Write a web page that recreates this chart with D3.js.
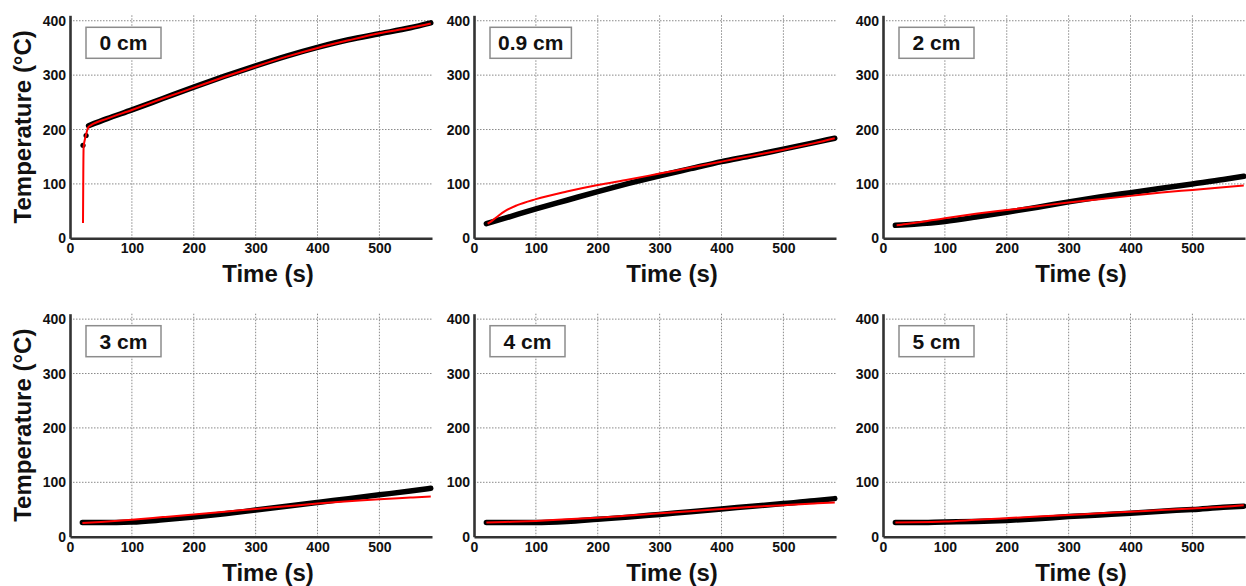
<!DOCTYPE html>
<html>
<head>
<meta charset="utf-8">
<script src="https://cdn.jsdelivr.net/npm/d3@7"></script>
<style>
  body { margin: 0; background: #fff; }
  svg text { font-family: "Liberation Sans", Arial, sans-serif; font-weight: bold; fill: #111; }
</style>
</head>
<body>
<div id="chart"></div>
<script>
const depthLabels = ["0 cm", "0.9 cm", "2 cm", "3 cm", "4 cm", "5 cm"];
const xTicks = [0, 100, 200, 300, 400, 500];
const yTicks = [0, 100, 200, 300, 400];

/* measured (black) and model (red) curves, [time s, temperature C] */
const meas0cmDots = [[21, 171], [26, 189]];
const meas0cm = [[30, 207], [60, 220], [100, 236], [150, 257], [200, 278], [250, 298], [300, 317], [350, 335], [400, 351], [450, 365], [500, 376], [550, 387], [583, 396]];
const model0cm = [[21, 28], [21.5, 120], [22, 168], [25, 186], [30, 205], [34, 208], [60, 220], [100, 236], [150, 257], [200, 277], [250, 297], [300, 316], [350, 334], [400, 350], [450, 364], [500, 377], [550, 387], [583, 395]];

const meas09cm = [[20, 27], [50, 37], [100, 54], [150, 70], [200, 86], [250, 101], [300, 115], [350, 128], [400, 141], [450, 152], [500, 164], [550, 176], [583, 184]];
const model09cm = [[22, 27], [30, 33], [40, 42], [50, 50], [70, 61], [100, 72], [150, 86], [200, 98], [250, 108], [300, 119], [350, 130], [400, 141], [450, 152], [500, 163], [550, 175], [583, 184]];

const meas2cm = [[20, 24], [50, 26], [100, 31], [150, 39], [200, 48], [250, 57], [300, 67], [350, 76], [400, 84], [450, 92], [500, 100], [550, 108], [583, 114]];
const model2cm = [[22, 24], [30, 25], [50, 28], [100, 37], [150, 45], [200, 52], [250, 59], [300, 66], [350, 72], [400, 78], [450, 84], [500, 89], [550, 94], [583, 97]];

const meas3cm = [[20, 26], [50, 26], [100, 27], [150, 31], [200, 36], [250, 42], [300, 49], [350, 56], [400, 63], [450, 70], [500, 77], [550, 84], [583, 89]];
const model3cm = [[20, 25], [50, 27], [100, 31], [150, 36], [200, 41], [250, 46], [300, 51], [350, 56], [400, 61], [450, 65], [500, 69], [550, 72], [583, 74]];

const meas4cm = [[20, 26], [50, 26], [100, 26], [150, 28], [200, 32], [250, 36], [300, 41], [350, 46], [400, 51], [450, 56], [500, 61], [550, 66], [583, 70]];
const model4cm = [[20, 26], [50, 27], [100, 29], [150, 32], [200, 35], [250, 39], [300, 43], [350, 47], [400, 51], [450, 55], [500, 58], [550, 61], [583, 63]];

const meas5cm = [[20, 26], [50, 26], [100, 27], [150, 28], [200, 30], [250, 33], [300, 37], [350, 40], [400, 43], [450, 47], [500, 50], [550, 54], [583, 56]];
const model5cm = [[20, 26], [50, 26.5], [100, 28], [150, 31], [200, 34], [250, 37], [300, 40], [350, 43], [400, 46], [450, 49], [500, 52], [550, 55], [583, 58]];

const measured = [meas0cm, meas09cm, meas2cm, meas3cm, meas4cm, meas5cm];
const modelled = [model0cm, model09cm, model2cm, model3cm, model4cm, model5cm];
const measuredDots = [meas0cmDots, [], [], [], [], []];

const width = 1246, height = 586;
const colLeft = [70, 474, 883];
const rowTop = [15.3, 313.7];
const plotW = 362, plotH = 223;

const x = d3.scaleLinear().domain([0, 585]).range([0, plotW]);
const y = d3.scaleLinear().domain([0, 410]).range([plotH, 0]);

const line = d3.line()
  .x(d => x(d[0]))
  .y(d => y(d[1]))
  .curve(d3.curveMonotoneX);

const svg = d3.select("#chart").append("svg")
  .attr("width", width)
  .attr("height", height);

depthLabels.forEach((label, i) => {
  const col = i % 3, row = Math.floor(i / 3);
  const g = svg.append("g")
    .attr("transform", "translate(" + colLeft[col] + " " + rowTop[row] + ")");

  /* dotted grid */
  g.selectAll(".vgrid").data(xTicks.filter(t => t > 0)).enter().append("line")
    .attr("x1", d => x(d)).attr("x2", d => x(d))
    .attr("y1", 0).attr("y2", plotH)
    .attr("stroke", "#8a8a8a").attr("stroke-width", 1).attr("stroke-dasharray", "1.5,1.5");
  g.selectAll(".hgrid").data(yTicks.filter(t => t > 0)).enter().append("line")
    .attr("x1", 0).attr("x2", plotW)
    .attr("y1", d => y(d)).attr("y2", d => y(d))
    .attr("stroke", "#8a8a8a").attr("stroke-width", 1).attr("stroke-dasharray", "1.5,1.5");

  /* axes */
  const xAxis = g.append("g")
    .attr("transform", "translate(0 " + plotH + ")")
    .call(d3.axisBottom(x).tickValues(xTicks).tickSize(0).tickSizeOuter(0).tickPadding(5));
  const yAxis = g.append("g")
    .call(d3.axisLeft(y).tickValues(yTicks).tickSize(0).tickSizeOuter(0).tickPadding(4));
  [xAxis, yAxis].forEach(a => {
    a.select(".domain").attr("stroke", "#333").attr("stroke-width", 2.6);
    a.selectAll("text").attr("font-size", 14).attr("fill", "#111")
      .attr("font-family", "'Liberation Sans', Arial, sans-serif").attr("font-weight", "bold");
  });

  /* measured: thick black, model: thin red on top */
  g.append("path")
    .attr("d", line(measured[i]))
    .attr("fill", "none").attr("stroke", "#000")
    .attr("stroke-width", 5.5).attr("stroke-linecap", "round").attr("stroke-linejoin", "round");
  g.selectAll(".dot").data(measuredDots[i]).enter().append("circle")
    .attr("cx", d => x(d[0])).attr("cy", d => y(d[1])).attr("r", 2.6).attr("fill", "#000");
  g.append("path")
    .attr("d", line(modelled[i]))
    .attr("fill", "none").attr("stroke", "#ff0000").attr("stroke-width", 2);

  /* depth label box */
  const lbl = g.append("g").attr("transform", "translate(16 12)");
  const box = lbl.append("rect").attr("height", 31)
    .attr("fill", "#fff").attr("stroke", "#8c8c8c").attr("stroke-width", 1.5);
  const txt = lbl.append("text").attr("y", 23).attr("font-size", 21)
    .attr("text-anchor", "middle").text(label);
  const bw = Math.max(75, txt.node().getComputedTextLength() + 16);
  box.attr("width", bw);
  txt.attr("x", bw / 2);

  /* axis titles */
  g.append("text")
    .attr("x", x(320)).attr("y", plotH + 44)
    .attr("text-anchor", "middle").attr("font-size", 24)
    .text("Time (s)");
  if (col === 0) {
    g.append("text")
      .attr("transform", "translate(-39 " + plotH / 2 + ") rotate(-90)")
      .attr("text-anchor", "middle").attr("font-size", 24)
      .text("Temperature (°C)");
  }
});
</script>
</body>
</html>
